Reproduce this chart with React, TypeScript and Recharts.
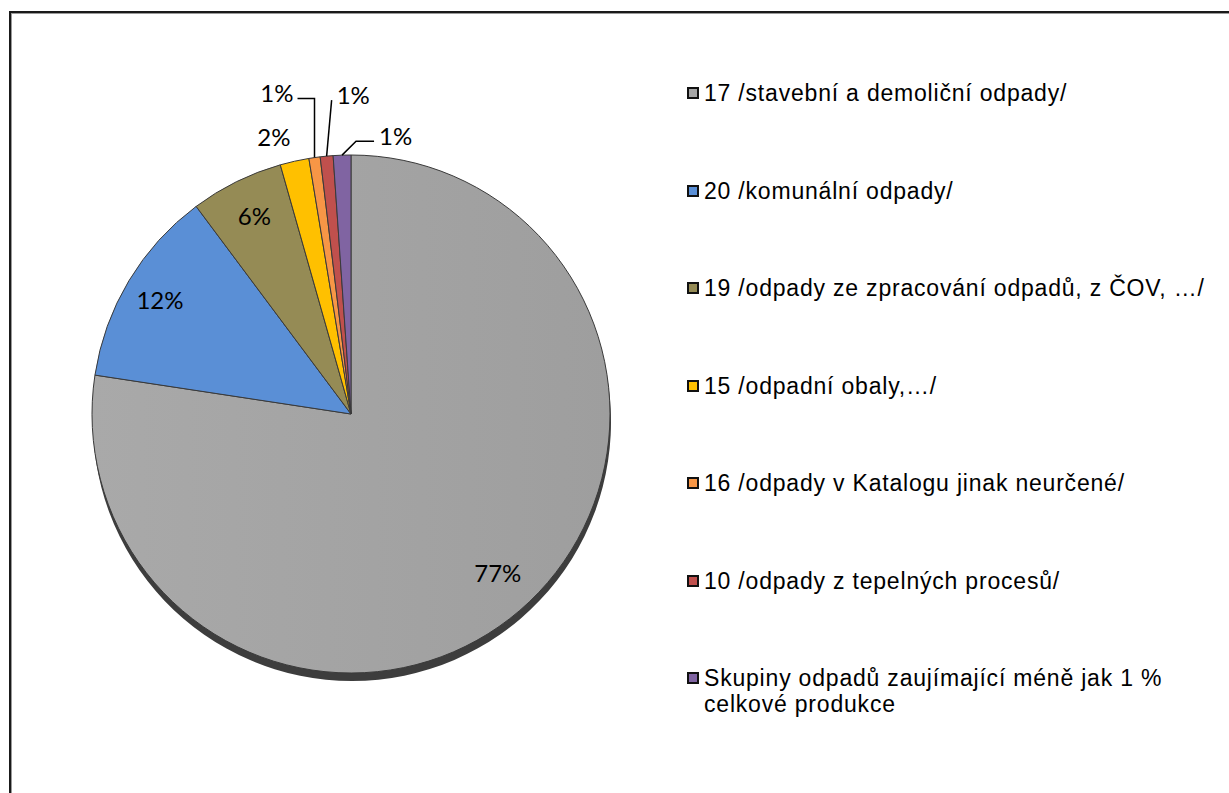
import React from 'react';
import { PieChart, Pie, Cell, Legend } from 'recharts';

// waste groups, share of total production (%)
const CATEGORIES = [
  '17 /stavební a demoliční odpady/',
  '20 /komunální odpady/',
  '19 /odpady ze zpracování odpadů, z ČOV, …/',
  '15 /odpadní obaly,…/',
  '16 /odpady v Katalogu jinak neurčené/',
  '10 /odpady z tepelných procesů/',
  'Skupiny odpadů zaujímající méně jak 1 % celkové produkce',
];
const SHARES = [77.4, 12.4, 5.8, 1.8, 0.7, 0.8, 1.1];
const COLORS = ['url(#grayFill)', '#5a8fd6', '#958b55', '#ffc000', '#f79646', '#c0504d', '#8064a2'];
const LEGEND_COLORS = ['#a5a5a5', '#5a8fd6', '#958b55', '#ffc000', '#f79646', '#c0504d', '#8064a2'];

const data = CATEGORIES.map((name, i) => ({ name, value: SHARES[i], color: LEGEND_COLORS[i] }));

// label placement per slice: radius factor + nudge, small slices get leader lines
type LabelLayout =
  | { kind: 'radial'; r: number; dx: number; dy: number }
  | { kind: 'leader'; elbow: [number, number]; end: [number, number]; anchor: 'start' | 'end' };

const LABEL_LAYOUT: LabelLayout[] = [
  { kind: 'radial', r: 0.84, dx: 5, dy: -6 },
  { kind: 'radial', r: 0.86, dx: 0, dy: 0 },
  { kind: 'radial', r: 0.86, dx: 2, dy: 1 },
  { kind: 'radial', r: 1.1, dx: -15, dy: 1 },
  { kind: 'leader', elbow: [0, -59], end: [-17, -59], anchor: 'end' },
  { kind: 'leader', elbow: [5, -56], end: [5, -56], anchor: 'start' },
  { kind: 'leader', elbow: [14, -14], end: [32, -14], anchor: 'start' },
];

const RADIAN = Math.PI / 180;
const LABEL_FONT = 'Lato, "Open Sans", sans-serif';

const renderLabel = (props: any) => {
  const { cx, cy, midAngle, outerRadius, percent, index } = props;
  const text = `${Math.round(percent * 100)}%`;
  const layout = LABEL_LAYOUT[index];
  const cos = Math.cos(-midAngle * RADIAN);
  const sin = Math.sin(-midAngle * RADIAN);

  if (layout.kind === 'leader') {
    const ex = cx + outerRadius * cos;
    const ey = cy + outerRadius * sin;
    const bx = ex + layout.elbow[0];
    const by = ey + layout.elbow[1];
    const tx = ex + layout.end[0];
    const ty = ey + layout.end[1];
    return (
      <g key={`lbl-${index}`}>
        <polyline points={`${ex},${ey} ${bx},${by} ${tx},${ty}`} fill="none" stroke="#000" strokeWidth={1.5} />
        <text
          x={layout.anchor === 'end' ? tx - 4 : tx + 5}
          y={ty - 6}
          textAnchor={layout.anchor}
          dominantBaseline="central"
          fontFamily={LABEL_FONT}
          fontSize={24}
          fill="#000"
        >
          {text}
        </text>
      </g>
    );
  }

  const r = outerRadius * layout.r;
  return (
    <text
      key={`lbl-${index}`}
      x={cx + r * cos + layout.dx}
      y={cy + r * sin + layout.dy}
      textAnchor="middle"
      dominantBaseline="central"
      fontFamily={LABEL_FONT}
      fontSize={24}
      fill="#000"
    >
      {text}
    </text>
  );
};

const renderLegend = () => (
  <div
    style={{
      fontFamily: '"Liberation Sans", Arial, sans-serif',
      fontSize: 23,
      letterSpacing: 0.8,
      color: '#000',
    }}
  >
    {data.map((d) => (
      <div key={d.name} style={{ display: 'flex', alignItems: 'flex-start', marginBottom: 71.5, lineHeight: '26px' }}>
        <span
          style={{
            display: 'inline-block',
            width: 8,
            height: 8,
            marginTop: 7,
            marginRight: 5,
            background: d.color,
            border: '2px solid #111',
            flex: 'none',
          }}
        />
        <span style={{ width: 525 }}>{d.name}</span>
      </div>
    ))}
  </div>
);

const App: React.FC = () => {
  return (
    <div
      style={{
        position: 'absolute',
        left: 9,
        top: 11,
        width: 1260,
        height: 820,
        borderTop: '2px solid #1a1a1a',
        borderLeft: '2px solid #1a1a1a',
        boxShadow: 'inset 1px 1px 0 #9a9a9a',
        background: '#fff',
      }}
    >
      <PieChart width={1216} height={778}>
        <defs>
          <linearGradient id="grayFill" x1="0" y1="0" x2="1" y2="0">
            <stop offset="0%" stopColor="#a9a9a9" />
            <stop offset="100%" stopColor="#9e9e9e" />
          </linearGradient>
        </defs>
        {/* drop shadow under the pie */}
        <Pie
          data={data}
          dataKey="value"
          cx={336}
          cy={404}
          outerRadius={259}
          startAngle={90}
          endAngle={-270}
          stroke="none"
          fill="#3d3d3d"
          isAnimationActive={false}
          legendType="none"
        />
        <Pie
          data={data}
          dataKey="value"
          nameKey="name"
          cx={335}
          cy={396}
          outerRadius={259}
          startAngle={90}
          endAngle={-270}
          stroke="#3a3a3a"
          strokeWidth={1}
          label={renderLabel}
          labelLine={false}
          isAnimationActive={false}
        >
          {data.map((d, i) => (
            <Cell key={d.name} fill={COLORS[i]} />
          ))}
        </Pie>
        <Legend
          layout="vertical"
          verticalAlign="top"
          align="right"
          content={renderLegend}
          wrapperStyle={{ left: 676, top: 67, width: 545 }}
        />
      </PieChart>
    </div>
  );
};

export default App;
